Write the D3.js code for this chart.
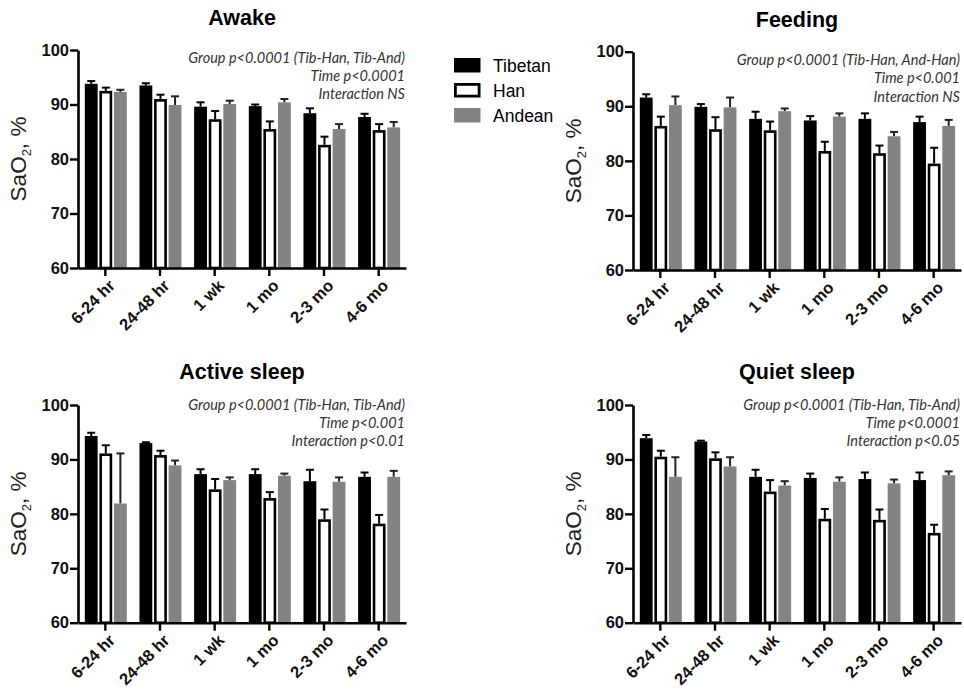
<!DOCTYPE html>
<html><head><meta charset="utf-8">
<script src="https://cdn.jsdelivr.net/npm/d3@7"></script>
<style>body{margin:0;background:#fff} svg{display:block}</style>
</head><body>
<script>
// ---------- DATA ----------
const categories = ["6-24 hr", "24-48 hr", "1 wk", "1 mo", "2-3 mo", "4-6 mo"];
const groups = ["Tibetan", "Han", "Andean"];
const yTicks = [60, 70, 80, 90, 100];
const panelTitles = ["Awake", "Feeding", "Active sleep", "Quiet sleep"];

const awakeTibetan = [93.8, 93.5, 89.6, 89.7, 88.4, 87.7];
const awakeTibetanSem = [0.5, 0.4, 0.8, 0.3, 0.9, 0.6];
const awakeHan = [92.5, 91.0, 87.3, 85.5, 82.6, 85.3];
const awakeHanSem = [0.6, 0.8, 1.5, 1.4, 1.5, 1.1];
const awakeAndean = [92.3, 89.9, 90.1, 90.4, 85.5, 85.8];
const awakeAndeanSem = [0.4, 1.6, 0.6, 0.6, 0.9, 1.0];

const feedingTibetan = [91.6, 89.9, 87.7, 87.4, 87.7, 87.1];
const feedingTibetanSem = [0.6, 0.5, 1.3, 0.8, 1.0, 1.0];
const feedingHan = [86.4, 85.8, 85.6, 81.8, 81.4, 79.5];
const feedingHanSem = [1.7, 2.2, 1.6, 1.7, 1.4, 2.9];
const feedingAndean = [90.2, 89.8, 89.1, 88.1, 84.5, 86.4];
const feedingAndeanSem = [1.6, 1.8, 0.5, 0.6, 0.8, 1.1];

const activeTibetan = [94.3, 93.0, 87.3, 87.3, 86.0, 86.8];
const activeTibetanSem = [0.6, 0.15, 0.9, 0.9, 2.1, 0.8];
const activeHan = [91.1, 90.8, 84.5, 82.9, 79.0, 78.2];
const activeHanSem = [1.5, 0.8, 1.9, 1.1, 1.8, 1.6];
const activeAndean = [81.9, 88.9, 86.2, 87.0, 85.9, 86.8];
const activeAndeanSem = [9.2, 0.9, 0.5, 0.4, 0.8, 1.1];

const quietTibetan = [93.9, 93.3, 86.8, 86.6, 86.4, 86.2];
const quietTibetanSem = [0.6, 0.15, 1.3, 0.8, 1.2, 1.4];
const quietHan = [90.5, 90.2, 84.1, 79.1, 78.9, 76.5];
const quietHanSem = [1.1, 1.1, 2.1, 1.8, 1.9, 1.5];
const quietAndean = [86.8, 88.7, 85.2, 85.9, 85.6, 87.1];
const quietAndeanSem = [3.6, 1.7, 0.8, 0.8, 0.7, 0.7];

const awakeNotes = ["Group p<0.0001 (Tib-Han, Tib-And)", "Time p<0.0001", "Interaction NS"];
const feedingNotes = ["Group p<0.0001 (Tib-Han, And-Han)", "Time p<0.001", "Interaction NS"];
const activeNotes = ["Group p<0.0001 (Tib-Han, Tib-And)", "Time p<0.001", "Interaction p<0.01"];
const quietNotes = ["Group p<0.0001 (Tib-Han, Tib-And)", "Time p<0.0001", "Interaction p<0.05"];

// ---------- BUILD ----------
const panelData = [
  {means: [awakeTibetan, awakeHan, awakeAndean], sems: [awakeTibetanSem, awakeHanSem, awakeAndeanSem], notes: awakeNotes},
  {means: [feedingTibetan, feedingHan, feedingAndean], sems: [feedingTibetanSem, feedingHanSem, feedingAndeanSem], notes: feedingNotes},
  {means: [activeTibetan, activeHan, activeAndean], sems: [activeTibetanSem, activeHanSem, activeAndeanSem], notes: activeNotes},
  {means: [quietTibetan, quietHan, quietAndean], sems: [quietTibetanSem, quietHanSem, quietAndeanSem], notes: quietNotes}
];

const layout = [
  {left: 78, top: 50, bottom: 268, titleY: 25, noteY: 12.8},
  {left: 633, top: 51.7, bottom: 270, titleY: 27, noteY: 13.3},
  {left: 78, top: 405, bottom: 622.7, titleY: 379, noteY: 4.5},
  {left: 633, top: 405, bottom: 622.7, titleY: 379, noteY: 4.5}
];
const plotW = 328;
const fills = {Tibetan: "#000", Han: "#fff", Andean: "#838383"};
const errColor = {Tibetan: "#000", Han: "#000", Andean: "#222"};
const sans = "Liberation Sans, Arial, sans-serif";

const svg = d3.select("body").append("svg").attr("width", 964).attr("height", 691);

panelData.forEach((pd, pi) => {
  const L = layout[pi];
  const g = svg.append("g").attr("transform", `translate(${L.left},0)`);
  const x0 = d3.scaleBand().domain(categories).range([0, plotW]).padding(0);
  const x1 = d3.scaleBand().domain(groups).range([6.8, 48.8]).paddingInner(0.12).paddingOuter(0);
  const y = d3.scaleLinear().domain([60, 100]).range([L.bottom, L.top]);

  // title
  svg.append("text").attr("x", L.left + plotW / 2).attr("y", L.titleY)
    .attr("text-anchor", "middle").attr("font-family", sans)
    .attr("font-weight", "bold").attr("font-size", 21.5).attr("fill", "#000").text(panelTitles[pi]);

  // bars
  groups.forEach((grp, gi) => {
    const vals = pd.means[gi], sems = pd.sems[gi];
    const sw = grp === "Han" ? 2.6 : 0;
    const bw = x1.bandwidth();
    categories.forEach((c, ci) => {
      const bx = x0(c) + x1(grp);
      const cx = bx + bw / 2;
      const yv = y(vals[ci]);
      const ye = y(vals[ci] + sems[ci]);
      g.append("line").attr("x1", cx).attr("x2", cx).attr("y1", yv).attr("y2", ye)
        .attr("stroke", errColor[grp]).attr("stroke-width", 2);
      g.append("line").attr("x1", cx - 4).attr("x2", cx + 4).attr("y1", ye).attr("y2", ye)
        .attr("stroke", errColor[grp]).attr("stroke-width", 2);
      g.append("rect")
        .attr("x", bx + sw / 2).attr("y", yv + sw / 2)
        .attr("width", bw - sw).attr("height", Math.max(0, L.bottom - yv - sw / 2))
        .attr("fill", fills[grp])
        .attr("stroke", sw ? "#000" : "none").attr("stroke-width", sw);
    });
  });

  // y axis
  const ya = g.append("g").call(d3.axisLeft(y).tickValues(yTicks).tickSize(8).tickPadding(1).tickSizeOuter(0));
  ya.select(".domain").attr("stroke-width", 2.6);
  ya.selectAll(".tick line").attr("stroke-width", 2.4);
  ya.selectAll("text").attr("font-family", sans).attr("font-weight", "bold")
    .attr("font-size", 16.5).attr("fill", "#111");

  // x axis
  const xa = g.append("g").attr("transform", `translate(0,${L.bottom})`)
    .call(d3.axisBottom(x0).tickSize(8).tickSizeOuter(0).tickPadding(0));
  xa.select(".domain").attr("stroke-width", 2.6);
  xa.selectAll(".tick line").attr("stroke-width", 2.4);
  xa.selectAll("text").attr("font-family", sans).attr("font-weight", "bold")
    .attr("font-size", 16.5).attr("fill", "#111")
    .attr("text-anchor", "end").attr("dy", 0)
    .attr("transform", "translate(5,13) rotate(-45)");

  // y label
  const yl = svg.append("text")
    .attr("transform", `translate(${L.left - 52},${(L.top + L.bottom) / 2}) rotate(-90)`)
    .attr("text-anchor", "middle").attr("font-family", sans)
    .attr("font-size", 22.5).attr("fill", "#222");
  yl.append("tspan").text("SaO");
  yl.append("tspan").attr("font-size", 13).attr("dy", 5).text("2");
  yl.append("tspan").attr("dy", -5).text(", %");

  // notes
  pd.notes.forEach((t, i) => {
    svg.append("text").attr("x", L.left + plotW - 1).attr("y", L.top + L.noteY + i * 18.3)
      .attr("text-anchor", "end").attr("font-family", "Lato, 'Open Sans', sans-serif")
      .attr("font-style", "italic").attr("font-size", 14.5).attr("fill", "#333").text(t);
  });
});

// legend
const legend = svg.append("g").attr("transform", "translate(454,58)");
groups.forEach((grp, i) => {
  const sw = grp === "Han" ? 2.8 : 0;
  legend.append("rect").attr("x", sw / 2).attr("y", i * 25 + sw / 2)
    .attr("width", 26.5 - sw).attr("height", 14.5 - sw)
    .attr("fill", fills[grp]).attr("stroke", sw ? "#000" : "none").attr("stroke-width", sw);
  legend.append("text").attr("x", 39).attr("y", i * 25 + 13.5)
    .attr("font-family", sans).attr("font-size", 17.5)
    .attr("fill", "#000").text(grp);
});
</script>
</body></html>
